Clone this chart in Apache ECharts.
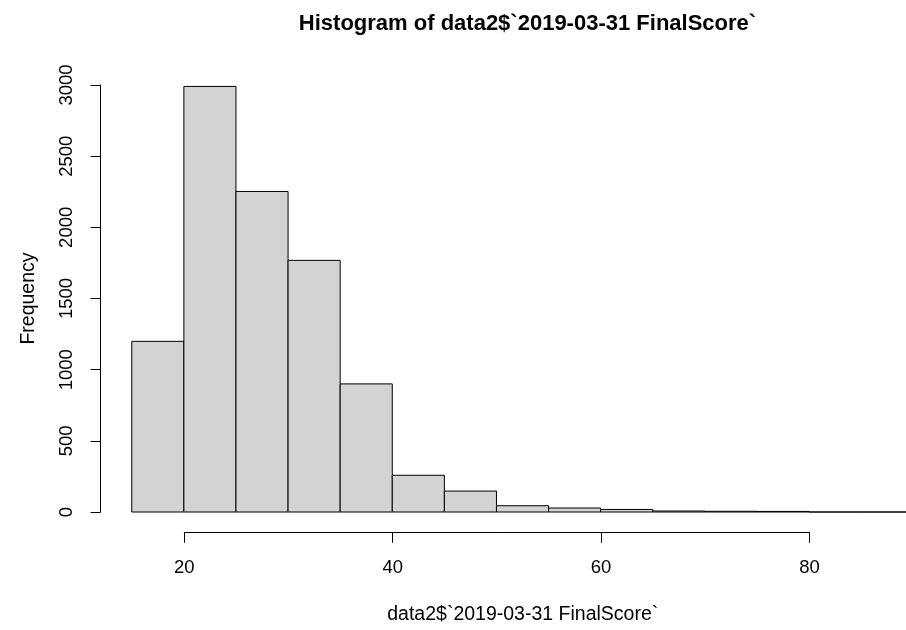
<!DOCTYPE html>
<html>
<head>
<meta charset="utf-8">
<script src="https://cdn.jsdelivr.net/npm/echarts@6/dist/echarts.min.js"></script>
<style>
html,body{margin:0;padding:0;background:#fff;}
#chart{width:906px;height:630px;}
</style>
</head>
<body>
<div id="chart"></div>
<script>
const breaks = [15, 20, 25, 30, 35, 40, 45, 50, 55, 60, 65, 70, 75, 80, 85, 90];
const counts = [1199, 2990, 2252, 1768, 900, 258, 147, 44, 28, 18, 7, 5, 4, 0, 0];
const yTicks = [0, 500, 1000, 1500, 2000, 2500, 3000];
const xTicks = [20, 40, 60, 80];
const titleText = 'Histogram of data2$`2019-03-31 FinalScore`';
const xName = 'data2$`2019-03-31 FinalScore`';
const yName = 'Frequency';

const binData = counts.map((c, i) => [breaks[i], breaks[i + 1], c]);
const FONT = 'Liberation Sans, Arial, sans-serif';

const chart = echarts.init(document.getElementById('chart'));
chart.setOption({
  backgroundColor: '#fff',
  animation: false,
  title: {
    text: titleText,
    left: 522.5,
    top: 8,
    textAlign: 'center',
    textStyle: { fontFamily: FONT, fontSize: 22, fontWeight: 'bold', color: '#000' }
  },
  grid: [
    { left: 100.5, right: 0, top: 85, bottom: 115.7 },
    { left: 184.3, width: 625.2, top: 531.3, height: 1 }
  ],
  xAxis: [
    {
      type: 'value', gridIndex: 0, min: 12, max: 89.3,
      axisLine: { show: false }, axisTick: { show: false },
      axisLabel: { show: false }, splitLine: { show: false },
      name: xName, nameLocation: 'middle', nameGap: 93,
      nameTextStyle: { fontFamily: FONT, fontSize: 19.5, color: '#000', padding: [0, 0, 0, 39] }
    },
    {
      type: 'value', gridIndex: 1, min: xTicks[0], max: xTicks[xTicks.length - 1], interval: 20,
      position: 'bottom',
      axisLine: { show: true, lineStyle: { color: '#000', width: 1 } },
      axisTick: { show: true, length: 10.5, lineStyle: { color: '#000', width: 1 } },
      axisLabel: { show: true, margin: 26, fontFamily: FONT, fontSize: 18.5, color: '#000',
        formatter: v => String(v) },
      splitLine: { show: false }
    }
  ],
  yAxis: [
    {
      type: 'value', gridIndex: 0, min: yTicks[0], max: yTicks[yTicks.length - 1], interval: 500,
      axisLine: { show: true, lineStyle: { color: '#000', width: 1 } },
      axisTick: { show: true, length: 10, lineStyle: { color: '#000', width: 1 } },
      axisLabel: { show: true, rotate: 90, margin: 24, fontFamily: FONT, fontSize: 18.5, color: '#000',
        formatter: v => String(v) },
      splitLine: { show: false },
      name: yName, nameLocation: 'middle', nameGap: 62, nameRotate: 90,
      nameTextStyle: { fontFamily: FONT, fontSize: 19.5, color: '#000' }
    },
    {
      type: 'value', gridIndex: 1, show: false
    }
  ],
  series: [
    {
      type: 'custom',
      xAxisIndex: 0, yAxisIndex: 0,
      clip: false,
      data: binData,
      renderItem: function (params, api) {
        const x0 = api.value(0), x1 = api.value(1), h = api.value(2);
        const p0 = api.coord([x0, h]);
        const p1 = api.coord([x1, 0]);
        return {
          type: 'rect',
          shape: { x: p0[0], y: p0[1], width: p1[0] - p0[0], height: p1[1] - p0[1] },
          style: { fill: '#D3D3D3', stroke: '#000', lineWidth: 1 }
        };
      }
    }
  ]
});
</script>
</body>
</html>
